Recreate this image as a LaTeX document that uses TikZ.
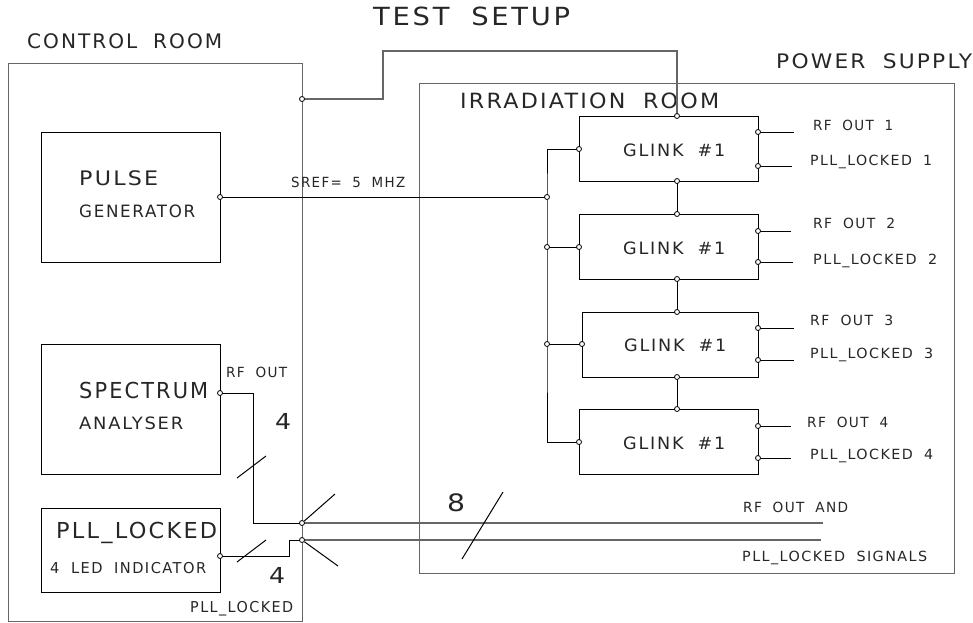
\documentclass[tikz,border=0pt]{standalone}
\usepackage{fontspec}
\setmainfont{DejaVu Sans}[LetterSpace=10,WordSpace=1.9]
\newcommand\fitw[2]{\setbox0=\hbox{#2}\dimen0=\wd0\pgfmathsetmacro\fitsx{#1/\the\dimen0}\scalebox{\fitsx}[1]{\box0}}
\begin{document}
\begin{tikzpicture}[x=1pt,y=-1pt,line join=miter,
  room/.style={draw=black!60,line width=1.3pt,anchor=north west,inner sep=0,fill=none},
  box/.style={draw=black,line width=1pt,anchor=north west,inner sep=0},
  wire/.style={draw=black!60,line width=1.3pt},
  thinwire/.style={draw=black,line width=1pt},
  pin/.style={circle,draw=black,fill=white,line width=0.8pt,inner sep=0,minimum size=5pt},
  lbl/.style={anchor=base west,inner sep=0,text=black!85},
  fs/.style={font=\fontsize{#1}{#1}\selectfont}]
\useasboundingbox (0,0) rectangle (973,622);

% rooms
\node[room,minimum width=294pt,minimum height=558pt] (ctrl) at (8,63) {};
\node[room,minimum width=535pt,minimum height=490pt] (irr) at (419,83) {};

% boxes
\node[box,minimum width=179pt,minimum height=130pt] (pulse) at (41,132) {};
\node[box,minimum width=179pt,minimum height=130pt] (spec) at (41,344) {};
\node[box,minimum width=179pt,minimum height=84pt] (led) at (41,508) {};
\node[box,minimum width=179pt,minimum height=65pt] (g1) at (579,116) {};
\node[box,minimum width=179pt,minimum height=65pt] (g2) at (579,214) {};
\node[box,minimum width=176pt,minimum height=65pt] (g3) at (582,312) {};
\node[box,minimum width=179pt,minimum height=65pt] (g4) at (579,409) {};

\node[lbl,fs=17] (gl1) at (623,156) {\fitw{102}{GLINK \#1}};
\node[lbl,fs=17] (gl2) at (623,254) {\fitw{102}{GLINK \#1}};
\node[lbl,fs=17] (gl3) at (624,351) {\fitw{102}{GLINK \#1}};
\node[lbl,fs=17] (gl4) at (623,449) {\fitw{102}{GLINK \#1}};

% titles and labels
\node[lbl,fs=25] (t0) at (373,25) {\fitw{197}{TEST SETUP}};
\node[lbl,fs=20] (t1) at (27,48) {\fitw{195}{CONTROL ROOM}};
\node[lbl,fs=20] (t2) at (776,68) {\fitw{196}{POWER SUPPLY}};
\node[lbl,fs=21] (t3) at (460,108) {\fitw{259}{IRRADIATION ROOM}};
\node[lbl,fs=20] (t4) at (79,185) {\fitw{79}{PULSE}};
\node[lbl,fs=17] (t5) at (79,217) {\fitw{116}{GENERATOR}};
\node[lbl,fs=14] (t6) at (291,187) {\fitw{114}{SREF= 5 MHZ}};
\node[lbl,fs=22] (t7) at (79,398) {\fitw{129}{SPECTRUM}};
\node[lbl,fs=17] (t8) at (79,429) {\fitw{104}{ANALYSER}};
\node[lbl,fs=14] (t9) at (226,377) {\fitw{61}{RF OUT}};
\node[lbl,fs=22] (t10) at (275,429) {\fitw{16}{4}};
\node[lbl,fs=22] (t11) at (56,538) {\fitw{161}{PLL\_LOCKED}};
\node[lbl,fs=15] (t12) at (50,573) {\fitw{156}{4 LED INDICATOR}};
\node[lbl,fs=22] (t13) at (269,583) {\fitw{16}{4}};
\node[lbl,fs=15] (t14) at (190,612) {\fitw{103}{PLL\_LOCKED}};
\node[lbl,fs=24] (t15) at (447,511) {\fitw{18}{8}};
\node[lbl,fs=14] (t16) at (743,512) {\fitw{105}{RF OUT AND}};
\node[lbl,fs=14] (t17) at (742,561) {\fitw{185}{PLL\_LOCKED SIGNALS}};

\node[lbl,fs=14] (r1) at (813,130) {\fitw{80}{RF OUT 1}};
\node[lbl,fs=14] (l1) at (810,165) {\fitw{122}{PLL\_LOCKED 1}};
\node[lbl,fs=14] (r2) at (813,228) {\fitw{82}{RF OUT 2}};
\node[lbl,fs=14] (l2) at (813,264) {\fitw{124}{PLL\_LOCKED 2}};
\node[lbl,fs=14] (r3) at (810,325) {\fitw{83}{RF OUT 3}};
\node[lbl,fs=14] (l3) at (810,358) {\fitw{123}{PLL\_LOCKED 3}};
\node[lbl,fs=14] (r4) at (807,427) {\fitw{81}{RF OUT 4}};
\node[lbl,fs=14] (l4) at (810,459) {\fitw{123}{PLL\_LOCKED 4}};

% coordinates
\coordinate (b1) at (383,99);
\coordinate (b2) at (383,51);
\coordinate (e1rf) at (794,132); \coordinate (e1pl) at (792,166);
\coordinate (e2rf) at (791,231); \coordinate (e2pl) at (793,262);
\coordinate (e3rf) at (794,328); \coordinate (e3pl) at (794,360);
\coordinate (e4rf) at (791,426); \coordinate (e4pl) at (791,458);
\coordinate (sb) at (253,393);
\coordinate (lb) at (289,556);
\coordinate (endA) at (823,523);
\coordinate (endB) at (821,540);

% wires (drawn before pins)
\draw[wire] (302,99) -- (b1) -- (b2) -| (677,116);
\draw[thinwire] (220,197) -- (547,197);
\draw[thinwire] (579,149) -| (547,197) -- (547,247) -- (547,344) |- (579,442);
\draw[thinwire] (547,247) -- (579,247);
\draw[thinwire] (547,344) -- (582,344);
\draw[thinwire] (677,181) -- (677,214);
\draw[thinwire] (677,279) -- (677,312);
\draw[thinwire] (677,377) -- (677,409);
\draw[thinwire] (758,132) -- (e1rf); \draw[thinwire] (758,166) -- (e1pl);
\draw[thinwire] (758,231) -- (e2rf); \draw[thinwire] (758,262) -- (e2pl);
\draw[thinwire] (758,328) -- (e3rf); \draw[thinwire] (758,360) -- (e3pl);
\draw[thinwire] (758,426) -- (e4rf); \draw[thinwire] (758,458) -- (e4pl);
\draw[thinwire] (220,393) -- (sb) |- (302,523);
\draw[thinwire] (220,556) -- (lb) |- (302,540);
\draw[wire] (302,523) -- (endA);
\draw[wire] (302,540) -- (endB);

% pins
\node[pin] (pctl) at (302,99) {};
\node[pin] (ppulse) at (220,197) {};
\node[pin] (j1) at (547,197) {};
\node[pin] (j2) at (547,247) {};
\node[pin] (j3) at (547,344) {};
\node[pin] (g1in) at (579,149) {};
\node[pin] (g2in) at (579,247) {};
\node[pin] (g3in) at (582,344) {};
\node[pin] (g4in) at (579,442) {};
\node[pin] (g1t) at (677,116) {};
\node[pin] (g1b) at (677,181) {};
\node[pin] (g2t) at (677,214) {};
\node[pin] (g2b) at (677,279) {};
\node[pin] (g3t) at (677,312) {};
\node[pin] (g3b) at (677,377) {};
\node[pin] (g4t) at (677,409) {};
\node[pin] (g1rf) at (758,132) {}; \node[pin] (g1pl) at (758,166) {};
\node[pin] (g2rf) at (758,231) {}; \node[pin] (g2pl) at (758,262) {};
\node[pin] (g3rf) at (758,328) {}; \node[pin] (g3pl) at (758,360) {};
\node[pin] (g4rf) at (758,426) {}; \node[pin] (g4pl) at (758,458) {};
\node[pin] (psa) at (220,393) {};
\node[pin] (pled) at (220,556) {};
\node[pin] (jA) at (302,523) {};
\node[pin] (jB) at (302,540) {};

% bus slashes and branch ticks
\draw[thinwire] (237,478) -- (266,456);
\draw[thinwire] (237,562) -- (266,540);
\draw[thinwire] (462,559) -- (503,492);
\draw[thinwire] (jA) -- (335,494);
\draw[thinwire] (jB) -- (338,566);
\end{tikzpicture}
\end{document}
